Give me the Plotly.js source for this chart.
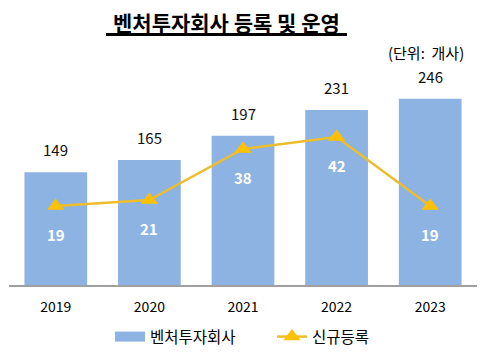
<!DOCTYPE html>
<html><head><meta charset="utf-8">
<script src="https://cdn.plot.ly/plotly-3.0.1.min.js"></script>
<style>html,body{margin:0;padding:0;background:#fff}</style>
</head><body>
<div id="chart" style="width:496px;height:355px"></div>
<script>
const years = ['2019','2020','2021','2022','2023'];
const operating = [149, 165, 197, 231, 246];
const newReg = [19, 21, 38, 42, 19];
const seriesNames = ['벤처투자회사', '신규등록'];
const titleText = '벤처투자회사 등록 및 운영';
const unitText = '(단위:&nbsp; 개사)';

const FONT = '"Noto Sans CJK KR", "Noto Sans", sans-serif';
const BAR_COLOR = '#8DB3E2';

const traces = [
  {type:'scatter', mode:'lines', x:[null], y:[null], name:seriesNames[0], yaxis:'y',
   line:{color:BAR_COLOR, width:10}, hoverinfo:'none', showlegend:true},
  {type:'bar', x:years, y:operating, name:seriesNames[0], marker:{color:BAR_COLOR}, yaxis:'y',
   hoverinfo:'none', showlegend:false},
  {type:'scatter', mode:'lines+markers', x:years, y:newReg, name:seriesNames[1], yaxis:'y2',
   line:{color:'#EDBE2C', width:2.5}, marker:{symbol:'triangle-up', size:15, color:'#FFC000'}, hoverinfo:'none'}
];

const px2x = p => (p-9)/468;
const py2y = p => (285-p)/215;

const annotations = [];
years.forEach((yr,i)=>{
  annotations.push({x:i, y:operating[i], xref:'x', yref:'y', text:String(operating[i]), showarrow:false,
    yanchor:'bottom', yshift:10, font:{family:FONT, size:15, color:'#111'}});
  annotations.push({x:i, y:newReg[i], xref:'x', yref:'y2', text:'<b>'+newReg[i]+'</b>', showarrow:false,
    yanchor:'middle', yshift:-28, font:{family:FONT, size:15, color:'#ffffff'}});
});
annotations.push({x:px2x(226.5), y:py2y(22), xref:'paper', yref:'paper', text:'<b>'+titleText+'</b>', showarrow:false,
  xanchor:'center', yanchor:'middle', font:{family:FONT, size:21, color:'#000'}});
annotations.push({x:px2x(466), y:py2y(53), xref:'paper', yref:'paper', text:unitText, showarrow:false,
  xanchor:'right', yanchor:'middle', font:{family:FONT, size:15, color:'#000'}});

const layout = {
  width:496, height:355,
  margin:{l:9, r:19, t:70, b:70, autoexpand:false},
  paper_bgcolor:'#fff', plot_bgcolor:'#fff',
  showlegend:true,
  legend:{orientation:'h', x:110/496, xref:'container', xanchor:'left', y:1-337/355, yref:'container', yanchor:'middle',
    font:{family:FONT, size:15.5, color:'#000'}, entrywidth:117, entrywidthmode:'pixels', tracegroupgap:0},
  bargap:0.33,
  xaxis:{type:'category', range:[-0.5,4.5], autorange:false, showline:true, linecolor:'#A0A0A0', linewidth:2,
    ticks:'', showgrid:false, zeroline:false, tickfont:{family:FONT, size:14, color:'#000'},
    ticklabelstandoff:8, fixedrange:true, automargin:false},
  yaxis:{range:[0,284], visible:false, showgrid:false, zeroline:false, fixedrange:true},
  yaxis2:{range:[-7.33,64.33], overlaying:'y', side:'right', visible:false, showgrid:false, zeroline:false, fixedrange:true},
  shapes:[{type:'line', xref:'paper', yref:'paper', x0:px2x(106), x1:px2x(347), y0:py2y(34.5), y1:py2y(34.5),
    line:{color:'#000', width:3}}],
  annotations:annotations
};
Plotly.newPlot('chart', traces, layout, {displayModeBar:false, staticPlot:true});
</script>
</body></html>
